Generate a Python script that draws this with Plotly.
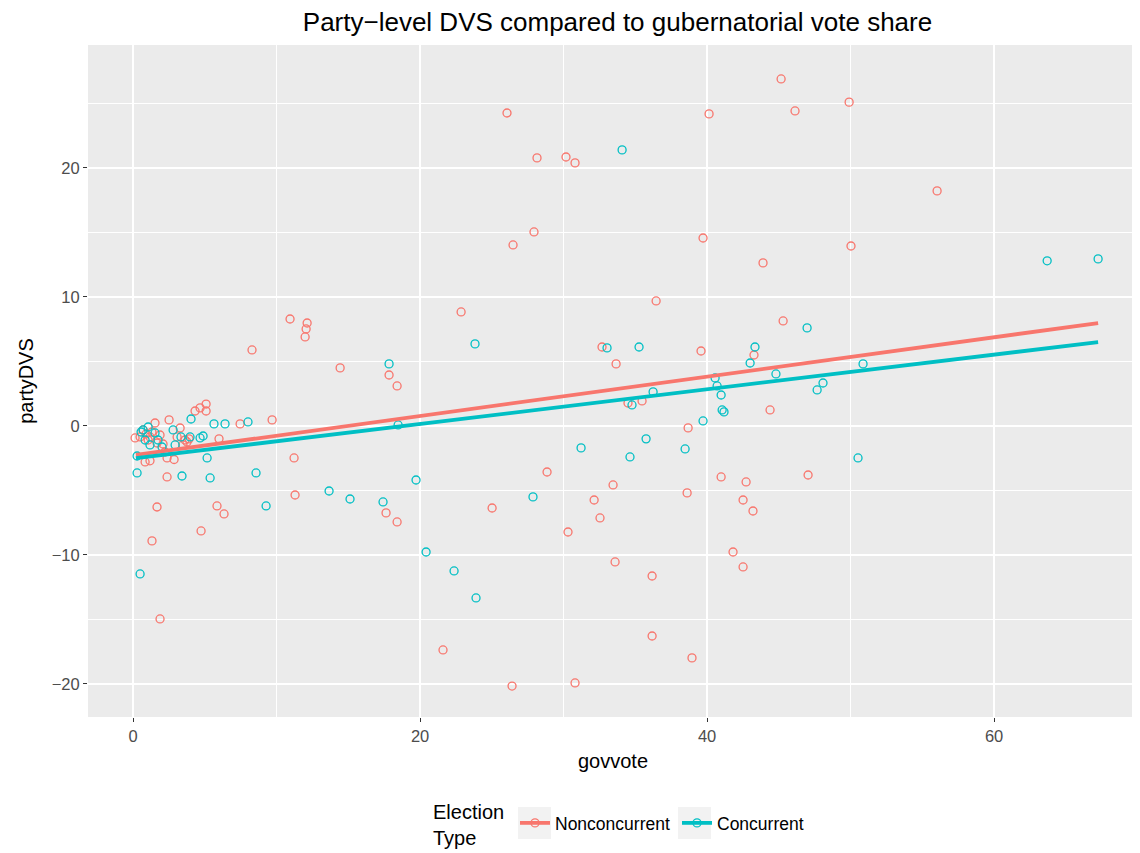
import plotly.graph_objects as go

# Nonconcurrent (red) points
non_x = [45.16, 26.06, 40.14, 46.13, 49.9, 28.15, 30.17, 30.8, 56.03, 26.48, 27.94, 39.72, 50.03, 43.9,
         36.45, 10.94, 12.13, 12.06, 11.99, 22.86, 8.29, 45.3, 14.43, 17.84, 18.4, 32.68, 33.66, 39.58,
         43.27, 34.49, 35.47, 44.39, 38.68, 9.69, 7.46, 5.09, 5.09, 4.67, 4.32, 5.99, 11.22, 11.29, 5.85,
         6.34, 4.74, 17.63, 18.4, 25.02, 28.85, 33.45, 32.13, 32.54, 30.31, 38.61, 40.98, 42.72, 42.51,
         43.2, 47.04, 33.59, 36.17, 36.17, 21.6, 26.41, 30.8, 41.81, 42.51, 38.95, 1.67, 1.32, 1.88, 2.37,
         0.14, 0.49, 0.7, 0.91, 1.05, 1.18, 1.32, 1.53, 1.67, 1.88, 2.09, 2.23, 2.37, 2.51, 3.07, 3.28,
         3.48, 3.62, 3.76, 3.9, 0.84, 1.18, 2.86]
non_y = [26.9, 24.26, 24.19, 24.42, 25.1, 20.78, 20.85, 20.39, 18.22, 14.03, 15.04, 14.57, 13.95, 12.64,
         9.69, 8.29, 7.98, 7.52, 6.9, 8.84, 5.89, 8.14, 4.5, 3.95, 3.1, 6.12, 4.81, 5.81,
         5.5, 1.78, 1.94, 1.24, -0.15, 0.47, 0.16, 1.7, 1.16, 1.4, 1.16, -1.0, -2.48, -5.35, -6.2,
         -6.82, -8.14, -6.74, -7.44, -6.36, -3.57, -4.57, -5.74, -7.13, -8.22, -5.19, -3.95, -4.34, -5.74,
         -6.59, -3.8, -10.54, -11.63, -16.28, -17.36, -20.16, -19.92, -9.77, -10.93, -17.98, -6.28, -8.91, -14.96, -3.95,
         -0.93, -0.85, -0.31, -0.62, -1.09, -0.85, -0.47, 0.23, -1.32, -0.7, -1.4, -2.02, -2.48, 0.47, -0.85, -0.16,
         -1.47, -1.09, -1.24, -1.0, -2.79, -2.7, -2.6]

# Concurrent (teal) points
con_x = [34.08, 63.7, 67.25, 23.83, 17.84, 18.47, 19.72, 20.42, 22.37, 23.9, 13.66, 15.12, 17.42, 27.87,
         31.22, 33.03, 35.26, 34.63, 35.75, 34.77, 36.24, 38.47, 39.72, 40.56, 40.7, 40.98, 41.05, 41.18,
         43.0, 43.34, 44.8, 46.97, 47.67, 48.08, 50.52, 50.87, 9.27, 8.57, 8.01, 6.41, 5.64, 5.37, 5.16,
         4.88, 4.67, 4.04, 3.41, 3.34, 2.79, 0.49, 0.28, 0.28, 0.56, 0.7, 1.05, 1.53, 1.74, 2.02, 2.93,
         3.97, 0.84, 1.18]
con_y = [21.4, 12.8, 12.95, 6.36, 4.81, 0.08, -4.19, -9.77, -11.24, -13.33, -5.04, -5.66, -5.89, -5.5,
         -1.7, 6.05, 6.12, -2.4, -1.0, 1.63, 2.64, -1.78, 0.39, 3.72, 3.1, 2.4, 1.24, 1.09,
         4.88, 6.12, 4.03, 7.6, 2.79, 3.33, -2.48, 4.81, -6.2, -3.64, 0.31, 0.16, 0.16, -4.03, -2.48,
         -0.78, -0.93, 0.54, -3.88, -0.85, -0.31, -11.47, -3.64, -2.33, -0.47, -0.31, -0.08, -0.54, -1.09, -1.63, -1.47,
         -0.85, -1.09, -1.47]

# Linear fit lines (endpoints)
non_fit_x = [0.2, 67.25]
non_fit_y = [-2.25, 7.98]
con_fit_x = [0.2, 67.25]
con_fit_y = [-2.5, 6.5]

series_names = ["Nonconcurrent", "Concurrent"]

RED = "#F8766D"
TEAL = "#00BFC4"
FONT = "Liberation Sans, Arial, sans-serif"

fig = go.Figure()
for xs, ys, col in [(non_x, non_y, RED), (con_x, con_y, TEAL)]:
    fig.add_trace(go.Scatter(x=xs, y=ys, mode="markers", showlegend=False, hoverinfo="skip",
                             marker=dict(symbol="circle-open", size=8, color=col, line=dict(width=1.3, color=col))))
for xs, ys, col in [(non_fit_x, non_fit_y, RED), (con_fit_x, con_fit_y, TEAL)]:
    fig.add_trace(go.Scatter(x=xs, y=ys, mode="lines", showlegend=False, line=dict(color=col, width=3.8)))
for name, col in zip(series_names, [RED, TEAL]):
    fig.add_trace(go.Scatter(x=[None], y=[None], mode="lines+markers", name=name,
                             line=dict(color=col, width=3.8),
                             marker=dict(symbol="circle-open", size=8, color=col, line=dict(width=1.3, color=col))))

# layout: page body has 8px margin, so figure is offset by 8px
W, H = 1132, 845
L, R, T, B = 80, 2, 37, 136
PW, PH = W - L - R, H - T - B


def px_x(page_x):
    return (page_x - 8 - L) / PW


def px_y(page_y):
    return (H - B - (page_y - 8)) / PH


# grey legend key backgrounds
for x0, x1 in [(518, 551), (678, 711)]:
    fig.add_shape(type="rect", xref="paper", yref="paper", x0=px_x(x0), x1=px_x(x1),
                  y0=px_y(839), y1=px_y(807), fillcolor="#F2F2F2", line=dict(width=0), layer="below")

fig.add_annotation(text="Election<br>Type", xref="paper", yref="paper", x=px_x(431), y=px_y(825),
                   xanchor="left", yanchor="middle", align="left", showarrow=False,
                   font=dict(size=20, color="black"))

fig.update_layout(
    width=W, height=H,
    margin=dict(l=L, r=R, t=T, b=B),
    paper_bgcolor="white", plot_bgcolor="#EBEBEB",
    font=dict(family=FONT, color="black"),
    title=dict(text="Party\u2212level DVS compared to gubernatorial vote share",
               x=(617.5 - 8) / W, xanchor="center",
               y=1 - (22 - 8) / H, yanchor="middle", font=dict(size=26, color="black")),
    legend=dict(orientation="h", x=px_x(515), xanchor="left", y=px_y(823), yanchor="middle",
                font=dict(size=17.5), bgcolor="rgba(0,0,0,0)", itemwidth=30,
                entrywidth=117, entrywidthmode="pixels"),
)
fig.update_xaxes(range=[-3.14, 70.03], tick0=0, dtick=20, showgrid=True, gridcolor="white", gridwidth=1.6,
                 minor=dict(showgrid=True, gridcolor="white", gridwidth=0.7, dtick=10, tick0=0),
                 zeroline=False, ticks="outside", ticklen=4, tickcolor="#333333", tickwidth=1,
                 tickfont=dict(size=16.5, color="#4D4D4D"), automargin=False,
                 title=dict(text="govvote", font=dict(size=20), standoff=10), showline=False)
fig.update_yaxes(range=[-22.56, 29.53], tick0=0, dtick=10, showgrid=True, gridcolor="white", gridwidth=1.6,
                 minor=dict(showgrid=True, gridcolor="white", gridwidth=0.7, dtick=5, tick0=0),
                 zeroline=False, ticks="outside", ticklen=4, tickcolor="#333333", tickwidth=1,
                 tickfont=dict(size=16.5, color="#4D4D4D"), automargin=False,
                 title=dict(text="partyDVS", font=dict(size=20), standoff=12), showline=False)

fig.write_html("out.html")
